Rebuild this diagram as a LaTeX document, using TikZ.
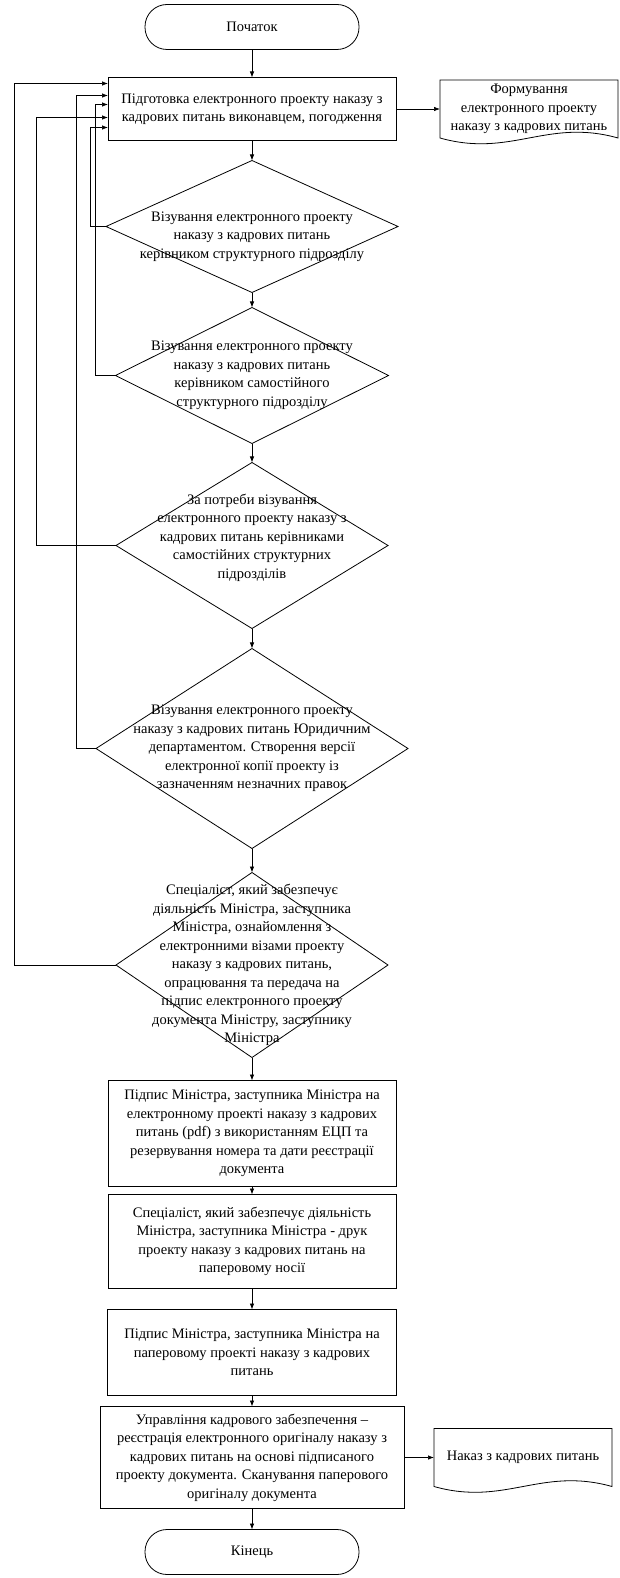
\documentclass[tikz,border=0pt]{standalone}
\usepackage{fontspec}
\setmainfont{Liberation Serif}
\usetikzlibrary{arrows.meta,positioning,shapes.geometric}

\begin{document}
\begin{tikzpicture}[
    x=1pt, y=1pt,
    font=\fontsize{14.5}{18.5}\selectfont,
    box/.style={
      draw,
      align=center,
      line width=0.8pt,
      inner sep=2pt,
      outer sep=0pt
    },
    terminal/.style={
      box,
      rounded corners=22pt,
      minimum width=214pt,
      minimum height=45pt
    },
    decision/.style={
      draw,
      diamond,
      line width=0.8pt,
      inner sep=0pt,
      outer sep=0pt
    },
    dtext/.style={align=center, inner sep=0pt},
    docbox/.style={
      align=center,
      minimum width=178pt,
      minimum height=58pt,
      inner sep=2pt,
      outer sep=0pt
    },
    arrow/.style={-{Latex[length=6pt,width=4.5pt]}, line width=0.7pt}
  ]
  \useasboundingbox (0,0) rectangle (620,-1578);

  % main column
  \node[terminal] (start) at (252,-27) {Початок};
  \node[box, below=28pt of start, minimum width=288pt, minimum height=63pt] (prep)
    {Підготовка електронного проекту наказу з\\кадрових питань виконавцем, погодження};
  \node[docbox, right=44pt of prep] (draft)
    {Формування\\електронного проекту\\наказу з кадрових питань};

  \node[decision, below=20pt of prep, minimum width=292pt, minimum height=132pt,
    label={[dtext, yshift=-10pt]center:{Візування електронного проекту\\наказу з кадрових питань\\керівником структурного підрозділу}}] (viz1) {};
  \node[decision, below=15pt of viz1, minimum width=273pt, minimum height=136pt,
    label={[dtext]center:{Візування електронного проекту\\наказу з кадрових питань\\керівником самостійного\\структурного підрозділу}}] (viz2) {};
  \node[decision, below=19pt of viz2, minimum width=272pt, minimum height=166pt,
    label={[dtext, yshift=8pt]center:{За потреби візування\\електронного проекту наказу з\\кадрових питань керівниками\\самостійних структурних\\підрозділів}}] (viz3) {};
  \node[decision, below=20pt of viz3, minimum width=312pt, minimum height=200pt,
    label={[dtext]center:{Візування електронного проекту\\наказу з кадрових питань Юридичним\\департаментом. Створення версії\\електронної копії проекту із\\зазначенням незначних правок}}] (viz4) {};
  \node[decision, below=24pt of viz4, minimum width=272pt, minimum height=185pt,
    label={[dtext]center:{Спеціаліст, який забезпечує\\діяльність Міністра,  заступника\\Міністра, ознайомлення з\\електронними візами проекту\\наказу з кадрових питань,\\опрацювання та  передача на\\підпис електронного проекту\\документа Міністру, заступнику\\Міністра}}] (viz5) {};

  \node[box, below=23pt of viz5, minimum width=288pt, minimum height=106pt] (esign)
    {Підпис Міністра, заступника Міністра на\\електронному проекті наказу з кадрових\\питань (pdf) з використанням ЕЦП та\\резервування номера та дати реєстрації\\документа};
  \node[box, below=8pt of esign, minimum width=288pt, minimum height=94pt] (print)
    {Спеціаліст, який забезпечує діяльність\\Міністра,  заступника Міністра - друк\\проекту наказу з кадрових питань на\\паперовому носії};
  \node[box, below=21pt of print, minimum width=289pt, minimum height=86pt] (psign)
    {Підпис Міністра, заступника Міністра на\\паперовому проекті наказу з кадрових\\питань};
  \node[box, below=11pt of psign, minimum width=304pt, minimum height=102pt] (reg)
    {Управління кадрового забезпечення  --\\реєстрація електронного оригіналу наказу з\\кадрових питань на основі підписаного\\проекту документа. Сканування паперового\\оригіналу документа};
  \node[docbox, right=30pt of reg] (order) {Наказ з кадрових питань};
  \node[terminal, below=21pt of reg] (finish) {Кінець};

  % document outlines
  \draw[line width=0.8pt] (draft.north west) -- (draft.north east) -- (draft.south east)
    .. controls ([xshift=-71pt,yshift=20pt]draft.south east)
    and ([xshift=71pt,yshift=-20pt]draft.south west) .. (draft.south west) -- cycle;
  \draw[line width=0.8pt] (order.north west) -- (order.north east) -- (order.south east)
    .. controls ([xshift=-71pt,yshift=20pt]order.south east)
    and ([xshift=71pt,yshift=-20pt]order.south west) .. (order.south west) -- cycle;

  % flow
  \draw[arrow] (start) -- (prep);
  \draw[arrow] (prep) -- (draft);
  \draw[arrow] (prep) -- (viz1);
  \draw[arrow] (viz1) -- (viz2);
  \draw[arrow] (viz2) -- (viz3);
  \draw[arrow] (viz3) -- (viz4);
  \draw[arrow] (viz4) -- (viz5);
  \draw[arrow] (viz5) -- (esign);
  \draw[arrow] (esign) -- (print);
  \draw[arrow] (print) -- (psign);
  \draw[arrow] (psign) -- (reg);
  \draw[arrow] (reg) -- (order);
  \draw[arrow] (reg) -- (finish);

  % returns to the draft
  \coordinate (ret1) at (90,0);
  \coordinate (ret2) at (95,0);
  \coordinate (ret3) at (36,0);
  \coordinate (ret4) at (76,0);
  \coordinate (ret5) at (14,0);
  \draw[arrow] (viz1.west) -- (viz1.west -| ret1) |- ([yshift=-18.5pt]prep.west);
  \draw[arrow] (viz2.west) -- (viz2.west -| ret2) |- ([yshift=4.5pt]prep.west);
  \draw[arrow] (viz3.west) -- (viz3.west -| ret3) |- ([yshift=-8.5pt]prep.west);
  \draw[arrow] (viz4.west) -- (viz4.west -| ret4) |- ([yshift=13.5pt]prep.west);
  \draw[arrow] (viz5.west) -- (viz5.west -| ret5) |- ([yshift=25.5pt]prep.west);
\end{tikzpicture}
\end{document}
